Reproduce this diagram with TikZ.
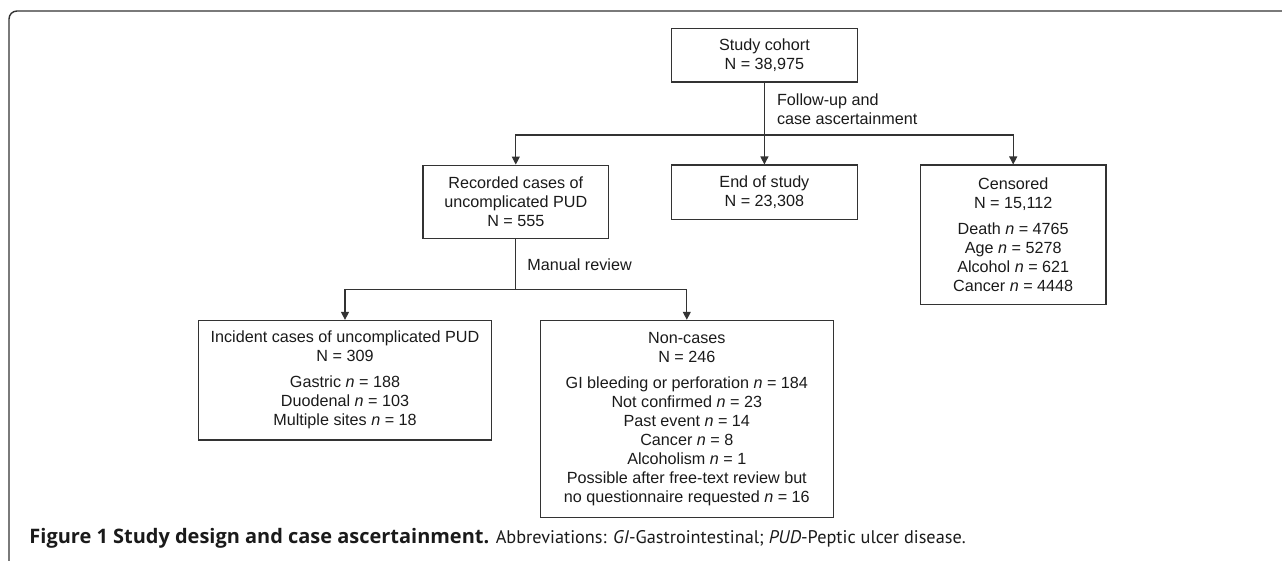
\documentclass[tikz,border=0pt]{standalone}
\usepackage{fontspec}
\setmainfont{Liberation Sans}
\newfontfamily\capfont{PT Sans}
\newfontfamily\capboldfont{Open Sans}
\usepackage{tikz}
\usetikzlibrary{arrows.meta,positioning}
\usepackage{xcolor}
\definecolor{linegray}{HTML}{333333}
\definecolor{textgray}{HTML}{1A1A1A}

\tikzset{
    box/.style={draw=linegray, line width=0.75pt, align=center, text=textgray, minimum width=4.64cm, inner sep=0pt, font=\fontsize{11.5}{13.5}\selectfont},
    widebox/.style={box, minimum width=7.33cm},
    link/.style={draw=linegray, line width=0.75pt},
    arrow/.style={link, -{Triangle[length=0.2cm, width=0.2cm]}},
    note/.style={anchor=west, align=left, inner sep=0pt, text=textgray, font=\fontsize{11.5}{13.5}\selectfont}
}

\begin{document}
\begin{tikzpicture}
    \useasboundingbox (0,0) rectangle (32.05,-14);
    \draw[linegray, line width=1pt, rounded corners=0.2cm] (0.225,-14.2) -- (0.225,-0.275) -- (32.3,-0.275);

    \node[box, minimum height=1.34cm] (cohort) at (19.11,-1.38) {Study cohort\\N = 38,975};

    \node[box, minimum height=1.825cm] (recorded) at (12.895,-5.04) {Recorded cases of\\uncomplicated PUD\\N = 555};
    \node[box, minimum height=1.36cm] (endstudy) at (19.11,-4.805) {End of study\\N = 23,308};
    \node[box, minimum height=3.49cm] (censored) at (25.33,-5.87) {Censored\\N = 15,112\\[5pt]Death \textit{n} = 4765\\Age \textit{n} = 5278\\Alcohol \textit{n} = 621\\Cancer \textit{n} = 4448};

    \node[widebox, minimum height=2.99cm] (incident) at (8.625,-9.505) {Incident cases of uncomplicated PUD\\N = 309\\[5pt]Gastric \textit{n} = 188\\Duodenal \textit{n} = 103\\Multiple sites \textit{n} = 18};
    \node[widebox, minimum height=4.925cm] (noncases) at (17.17,-10.47) {Non-cases\\N = 246\\[5pt]GI bleeding or perforation \textit{n} = 184\\Not confirmed \textit{n} = 23\\Past event \textit{n} = 14\\Cancer \textit{n} = 8\\Alcoholism \textit{n} = 1\\Possible after free-text review but\\no questionnaire requested \textit{n} = 16};

    \coordinate (split1) at (19.11,-3.375);
    \coordinate (split2) at (12.895,-7.2425);

    \draw[link] (cohort) -- (split1);
    \draw[arrow] (split1) -| (recorded);
    \draw[arrow] (split1) -- (endstudy);
    \draw[arrow] (split1) -| (censored);

    \draw[link] (recorded) -- (split2);
    \draw[arrow] (split2) -| (incident);
    \draw[arrow] (split2) -| (noncases);

    \node[note] (fulabel) at (19.42,-2.725) {Follow-up and\\case ascertainment};
    \node[note] (mrlabel) at (13.18,-6.625) {Manual review};

    \node[anchor=base west, inner sep=0pt, text=textgray, font=\capfont\fontsize{13}{16}\selectfont] (caption) at (0.73,-13.58) {{\capboldfont\bfseries\fontsize{14.2}{16}\selectfont Figure 1 Study design and case ascertainment.} Abbreviations: \textit{GI}-Gastrointestinal; \textit{PUD}-Peptic ulcer disease.};
\end{tikzpicture}
\end{document}
